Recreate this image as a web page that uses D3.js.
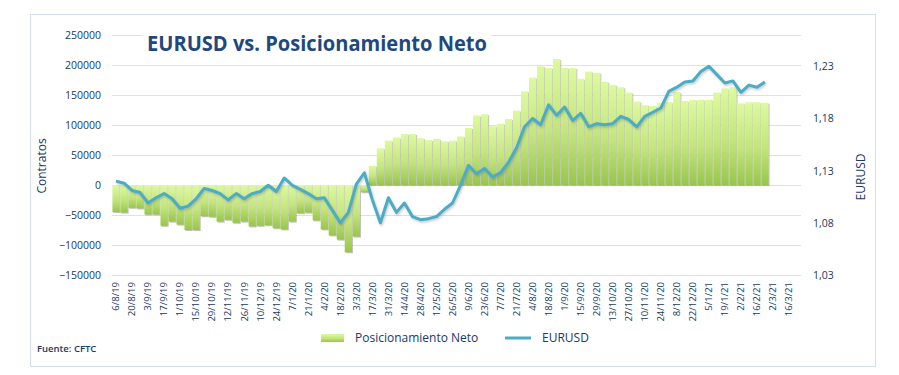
<!DOCTYPE html>
<html>
<head>
<meta charset="utf-8">
<script src="https://cdn.jsdelivr.net/npm/d3@7"></script>
<style>
  body { margin: 0; background: #ffffff; }
  text { font-family: "Open Sans", "DejaVu Sans", sans-serif; }
</style>
</head>
<body>
<script>
// Layout constants
const WIDTH = 899;
const HEIGHT = 375;
const PLOT_LEFT = 112;
const PLOT_RIGHT = 801;
const PLOT_TOP = 35;
const PLOT_BOTTOM = 275;
const TEXT_COLOR = "#203864";
const TITLE_COLOR = "#1F497D";
const GRID_COLOR = "#D9E1EE";
const LINE_COLOR = "#4BACC6";

// Data: weekly CFTC net positioning (contracts) and EURUSD, from 6/8/19
const tickLabels = ["6/8/19","20/8/19","3/9/19","17/9/19","1/10/19","15/10/19","29/10/19",
  "12/11/19","26/11/19","10/12/19","24/12/19","7/1/20","21/1/20","4/2/20","18/2/20","3/3/20",
  "17/3/20","31/3/20","14/4/20","28/4/20","12/5/20","26/5/20","9/6/20","23/6/20","7/7/20",
  "21/7/20","4/8/20","18/8/20","1/9/20","15/9/20","29/9/20","13/10/20","27/10/20","10/11/20",
  "24/11/20","8/12/20","22/12/20","5/1/21","19/1/21","2/2/21","16/2/21","2/3/21","16/3/21"];

const netPosition = [
  -45000, -46000, -38000, -39000, -49000, -49000, -68000, -61000, -66000, -75000,
  -75000, -52000, -53000, -61000, -58000, -63000, -61000, -69000, -68000, -67000,
  -72000, -74000, -61000, -47000, -46000, -59000, -74000, -84000, -91000, -112000,
  -86000, -12000, 32000, 61000, 74000, 79000, 85000, 85000, 78000, 75000,
  77000, 73000, 74000, 81000, 95000, 116000, 118000, 98000, 102000, 110000,
  124000, 156000, 179000, 198000, 195000, 210000, 195000, 195000, 177000, 189000,
  187000, 172000, 167000, 163000, 154000, 139000, 133000, 132000, 137000, 138000,
  155000, 140000, 142000, 142000, 142000, 154000, 161000, 163000, 136000, 138000,
  138000, 137000
];

const eurusd = [
  1.120, 1.118, 1.111, 1.109, 1.099, 1.104, 1.108, 1.103, 1.094, 1.096,
  1.103, 1.113, 1.111, 1.108, 1.102, 1.108, 1.103, 1.108, 1.110, 1.116,
  1.110, 1.123, 1.116, 1.112, 1.108, 1.103, 1.104, 1.092, 1.080, 1.090,
  1.117, 1.128, 1.102, 1.080, 1.104, 1.090, 1.099, 1.086, 1.083, 1.084,
  1.086, 1.093, 1.099, 1.116, 1.135, 1.127, 1.132, 1.124, 1.128, 1.138,
  1.152, 1.172, 1.180, 1.174, 1.193, 1.183, 1.191, 1.178, 1.185, 1.172,
  1.175, 1.174, 1.175, 1.182, 1.179, 1.172, 1.182, 1.186, 1.190, 1.206,
  1.210, 1.215, 1.216, 1.225, 1.230, 1.222, 1.214, 1.216, 1.205, 1.212,
  1.210, 1.215
];

const leftTicks = [-150000, -100000, -50000, 0, 50000, 100000, 150000, 200000, 250000];
const rightTicks = [1.03, 1.08, 1.13, 1.18, 1.23];

// Weekly categories, two per tick label (the last one has no data)
const formatDate = d3.timeFormat("%-d/%-m/%y");
const categories = d3.range(tickLabels.length * 2).map(i => formatDate(new Date(2019, 7, 6 + 7 * i)));

var svg = d3.select("body").append("svg")
  .attr("width", WIDTH)
  .attr("height", HEIGHT);

var defs = svg.append("defs");
var grad = defs.append("linearGradient")
  .attr("id", "barGrad")
  .attr("x1", 0).attr("y1", 0).attr("x2", 0).attr("y2", 1);
grad.append("stop").attr("offset", "0%").attr("stop-color", "#DDFA9E");
grad.append("stop").attr("offset", "55%").attr("stop-color", "#C3E57A");
grad.append("stop").attr("offset", "100%").attr("stop-color", "#98C64A");

var shadow = defs.append("filter").attr("id", "shadow")
  .attr("x", "-20%").attr("y", "-20%").attr("width", "150%").attr("height", "150%");
shadow.append("feDropShadow")
  .attr("dx", 1).attr("dy", 1).attr("stdDeviation", 0.6)
  .attr("flood-color", "#808080").attr("flood-opacity", 0.5);

var lineShadow = defs.append("filter").attr("id", "lineShadow")
  .attr("x", "-5%").attr("y", "-20%").attr("width", "110%").attr("height", "140%");
lineShadow.append("feDropShadow")
  .attr("dx", 1).attr("dy", 1.5).attr("stdDeviation", 1)
  .attr("flood-color", "#606060").attr("flood-opacity", 0.35);

// Outer chart border
svg.append("rect")
  .attr("x", 30.5).attr("y", 14.5)
  .attr("width", 845).attr("height", 352)
  .attr("fill", "#ffffff")
  .attr("stroke", "#D5DFEC");

// Scales
var x = d3.scaleBand()
  .domain(categories)
  .range([PLOT_LEFT, PLOT_RIGHT])
  .paddingInner(0.1)
  .paddingOuter(0.05);

var yLeft = d3.scaleLinear()
  .domain([-150000, 250000])
  .range([PLOT_BOTTOM, PLOT_TOP]);

var yRight = d3.scaleLinear()
  .domain([1.03, 1.26])
  .range([PLOT_BOTTOM, PLOT_TOP]);

// Gridlines
var grid = svg.append("g")
  .attr("transform", "translate(" + PLOT_LEFT + ",0)")
  .call(d3.axisLeft(yLeft).tickValues(leftTicks).tickSize(-(PLOT_RIGHT - PLOT_LEFT)).tickFormat(""));
grid.select(".domain").remove();
grid.selectAll("line").attr("stroke", GRID_COLOR).attr("stroke-width", 1.2);

// Left axis labels
var leftAxis = svg.append("g")
  .attr("transform", "translate(" + (PLOT_LEFT - 11) + ",0)")
  .call(d3.axisLeft(yLeft).tickValues(leftTicks).tickSize(0).tickFormat(d3.format("d")));
leftAxis.select(".domain").remove();
leftAxis.selectAll("text")
  .attr("fill", TEXT_COLOR)
  .style("font-size", "10.5px")
  .attr("x", 0);

// Right axis labels
var commaFormat = d3.formatLocale({ decimal: ",", thousands: ".", grouping: [3], currency: ["", "€"] }).format(".2f");
var rightAxis = svg.append("g")
  .attr("transform", "translate(" + (PLOT_RIGHT + 12) + ",0)")
  .call(d3.axisRight(yRight).tickValues(rightTicks).tickSize(0).tickFormat(commaFormat));
rightAxis.select(".domain").remove();
rightAxis.selectAll("text")
  .attr("fill", TEXT_COLOR)
  .style("font-size", "10.5px")
  .attr("x", 0);

// Bars
var bars = svg.append("g").attr("filter", "url(#shadow)");
bars.selectAll("rect")
  .data(netPosition)
  .enter().append("rect")
  .attr("x", (d, i) => x(categories[i]))
  .attr("y", d => yLeft(Math.max(0, d)))
  .attr("width", x.bandwidth())
  .attr("height", d => Math.abs(yLeft(d) - yLeft(0)))
  .attr("fill", "url(#barGrad)");

// EURUSD line
var line = d3.line()
  .x((d, i) => x(categories[i]) + x.bandwidth() / 2)
  .y(d => yRight(d));

svg.append("path")
  .datum(eurusd)
  .attr("d", line)
  .attr("fill", "none")
  .attr("stroke", LINE_COLOR)
  .attr("stroke-width", 3)
  .attr("stroke-linejoin", "round")
  .attr("filter", "url(#lineShadow)");

// Category axis with rotated labels
var xAxis = svg.append("g")
  .attr("transform", "translate(0," + PLOT_BOTTOM + ")")
  .call(d3.axisBottom(x)
    .tickValues(categories.filter((d, i) => i % 2 === 0))
    .tickSize(0)
    .tickFormat((d, i) => tickLabels[i]));
xAxis.select(".domain").remove();
xAxis.selectAll("text")
  .attr("fill", TEXT_COLOR)
  .style("font-size", "9.5px")
  .attr("text-anchor", "end")
  .attr("transform", "rotate(-90)")
  .attr("x", -7)
  .attr("y", 0)
  .attr("dy", "0.35em");

// Title with white backing over the top gridline
svg.append("rect")
  .attr("x", 143).attr("y", 28)
  .attr("width", 348).attr("height", 30)
  .attr("fill", "#ffffff");
svg.append("text")
  .attr("x", 147).attr("y", 51)
  .attr("fill", TITLE_COLOR)
  .style("font-size", "21px")
  .style("font-weight", "bold")
  .attr("textLength", 340)
  .attr("lengthAdjust", "spacingAndGlyphs")
  .text("EURUSD vs. Posicionamiento Neto");

// Axis titles
svg.append("text")
  .attr("transform", "translate(46,166) rotate(-90)")
  .attr("text-anchor", "middle")
  .attr("fill", TEXT_COLOR)
  .style("font-size", "12px")
  .text("Contratos");

svg.append("text")
  .attr("transform", "translate(865,177) rotate(-90)")
  .attr("text-anchor", "middle")
  .attr("fill", TEXT_COLOR)
  .style("font-size", "12px")
  .text("EURUSD");

// Legend
var legend = svg.append("g");
legend.append("rect")
  .attr("x", 321).attr("y", 334)
  .attr("width", 23).attr("height", 8)
  .attr("fill", "url(#barGrad)");
legend.append("text")
  .attr("x", 355).attr("y", 342)
  .attr("fill", TEXT_COLOR)
  .style("font-size", "12px")
  .text("Posicionamiento Neto");
legend.append("line")
  .attr("x1", 505).attr("x2", 531)
  .attr("y1", 338).attr("y2", 338)
  .attr("stroke", LINE_COLOR)
  .attr("stroke-width", 3);
legend.append("text")
  .attr("x", 542).attr("y", 342)
  .attr("fill", TEXT_COLOR)
  .style("font-size", "12px")
  .text("EURUSD");

// Source note
svg.append("text")
  .attr("x", 37).attr("y", 352)
  .attr("fill", TEXT_COLOR)
  .style("font-size", "9.5px")
  .style("font-weight", "600")
  .text("Fuente: CFTC");
</script>
</body>
</html>
